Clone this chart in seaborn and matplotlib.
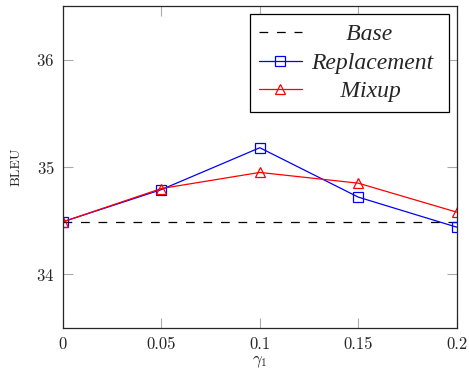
import pandas as pd
import seaborn as sns
import matplotlib.pyplot as plt
from matplotlib.font_manager import FontProperties

# values
gamma = [0, 0.05, 0.1, 0.15, 0.2]
base = [34.49, 34.49, 34.49, 34.49, 34.49]
replacement = [34.49, 34.79, 35.18, 34.72, 34.44]
mixup = [34.49, 34.80, 34.95, 34.85, 34.58]
xtick_labels = ["0", "0.05", "0.1", "0.15", "0.2"]
yticks = [34, 35, 36]

sns.set_style("ticks")
plt.rcParams["font.family"] = ["cmr10", "DejaVu Serif"]
plt.rcParams["mathtext.fontset"] = "cm"
plt.rcParams["axes.formatter.use_mathtext"] = True

fig = plt.figure(figsize=(4.69, 3.75), dpi=100)
ax = fig.add_axes([0.134, 0.125, 0.84, 0.859])

sns.lineplot(x=gamma, y=base, ax=ax, color="black", linestyle=(0, (7, 7)),
             linewidth=0.9, label="      Base")
sns.lineplot(x=gamma, y=replacement, ax=ax, color="blue", marker="s",
             markersize=7.5, markerfacecolor="none", markeredgecolor="blue",
             markeredgewidth=0.9, linewidth=0.9, label="Replacement ")
sns.lineplot(x=gamma, y=mixup, ax=ax, color="red", marker="^",
             markersize=7, markerfacecolor="none", markeredgecolor="red",
             markeredgewidth=0.9, linewidth=0.9, label="     Mixup")

ax.set_xlim(0, 0.2)
ax.set_ylim(33.5, 36.5)
ax.set_xticks(gamma)
ax.set_xticklabels(xtick_labels)
ax.set_yticks(yticks)
ax.tick_params(axis="both", direction="in", length=7, color="#aaaaaa",
               labelsize=12, top=True, right=True, pad=6)
for s in ax.spines.values():
    s.set_linewidth(0.9)
    s.set_visible(True)

ax.set_xlabel(r"$\gamma_1$", fontsize=12, labelpad=1)
ax.set_ylabel("BLEU", fontsize=10, labelpad=10)

leg = ax.legend(loc="upper right", prop=FontProperties(family="Liberation Serif", style="italic", size=17),
                frameon=True, fancybox=False, edgecolor="black", framealpha=1,
                borderaxespad=0.35, borderpad=0.4, handlelength=1.8, handletextpad=0.4,
                labelspacing=0.3)
leg.get_frame().set_linewidth(0.9)

fig.savefig("out.png", dpi=100)
